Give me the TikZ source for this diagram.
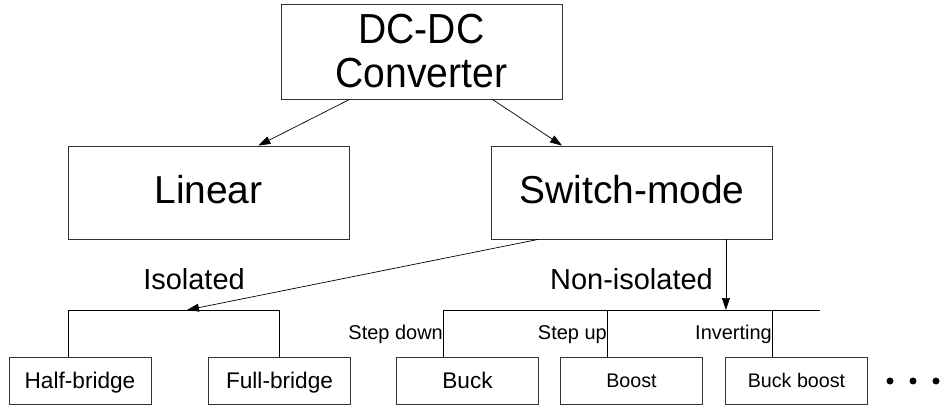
\documentclass[tikz,border=0pt]{standalone}
\usepackage{fontspec}
\setmainfont{Liberation Sans}
\newfontfamily\narrowsans[FakeStretch=0.93]{Liberation Sans}
\usepackage{tikz}
\usetikzlibrary{arrows.meta}

\begin{document}
\begin{tikzpicture}[>={Triangle[length=0.3cm,width=0.2cm]},
    bigbox/.style={draw=black!80,line width=0.6pt,inner sep=0pt,minimum width=7.025cm,minimum height=2.325cm,text depth=0.175cm,font=\fontsize{27.7}{33}\selectfont},
    smallbox/.style={draw=black!80,line width=0.6pt,inner sep=0pt,minimum width=3.55cm,minimum height=1.175cm,text depth=0pt},
    branchlab/.style={inner sep=0pt,font=\fontsize{20.6}{24}\selectfont},
    steplab/.style={inner sep=0pt,anchor=east,text depth=0pt,font=\fontsize{14.2}{17}\selectfont}]
    \useasboundingbox (0,0) rectangle (23.55,10.15);
    % Top
    \node[draw=black!80,line width=0.6pt,inner sep=0pt,minimum width=7.025cm,minimum height=2.375cm,align=center,font=\narrowsans\fontsize{29.9}{31.3}\selectfont] (conv) at (10.5375,8.8625) {DC-DC\\Converter};
    % Second row
    \node[bigbox] (linear) at (5.2125,5.3375) {Linear};
    \node[bigbox] (switch) at (15.8,5.3375) {Switch-mode};
    \draw[->,line width=0.5pt,black] ([xshift=1.725cm]conv.south west) to ([xshift=-2.275cm]linear.north east);
    \draw[->,line width=0.5pt,black] ([xshift=-1.75cm]conv.south east) to ([xshift=1.775cm]switch.north west);
    % Bottom row
    \node[smallbox,font=\fontsize{16.1}{19}\selectfont] (half) at (2.0,0.6375) {Half-bridge};
    \node[smallbox,font=\fontsize{16.1}{19}\selectfont] (full) at (6.9875,0.6375) {Full-bridge};
    \node[smallbox,font=\fontsize{16.1}{19}\selectfont] (buck) at (11.6875,0.6375) {Buck};
    \node[smallbox,font=\fontsize{14}{17}\selectfont] (boost) at (15.7875,0.6375) {Boost};
    \node[smallbox,font=\fontsize{14}{17}\selectfont] (buckboost) at (19.9125,0.6375) {Buck boost};
    % Isolated branch
    \coordinate (isoL) at (1.7,2.4);
    \coordinate (isoR) at (full.north |- isoL);
    \coordinate (isotip) at (4.675,2.4);
    \draw[->,line width=0.5pt,black] ([xshift=1.175cm]switch.south west) to (isotip);
    \draw[line width=0.5pt,black] (isoL) to (isoR);
    \draw[line width=0.5pt,black] (isoL) to (isoL |- half.north);
    \draw[line width=0.5pt,black] (isoR) to (full.north);
    \node[branchlab] (isolab) at (4.85,3.18) {Isolated};
    % Non-isolated branch
    \coordinate (nisoL) at (11.0875,2.4);
    \coordinate (nisoR) at (20.5,2.4);
    \coordinate (nisostart) at ([xshift=-1.175cm]switch.south east);
    \draw[->,line width=0.5pt,black] (nisostart) to (nisostart |- nisoL);
    \draw[line width=0.5pt,black] (nisoL) to (nisoR);
    \foreach \b in {buck,boost,buckboost}
        \draw[line width=0.5pt,black] ([xshift=1.175cm]\b.north west) to ++(0,1.175);
    \node[branchlab] (nisolab) at (15.7875,3.18) {Non-isolated};
    \node[steplab] (stepdown) at ([xshift=1.175cm,yshift=0.6cm]buck.north west) {Step down};
    \node[steplab] (stepup) at ([xshift=1.175cm,yshift=0.6cm]boost.north west) {Step up};
    \node[steplab] (inverting) at ([xshift=1.175cm,yshift=0.6cm]buckboost.north west) {Inverting};
    % More
    \foreach \x in {22.25,22.825,23.4}
        \fill[black] (\x,0.625) circle (0.0875);
\end{tikzpicture}
\end{document}
